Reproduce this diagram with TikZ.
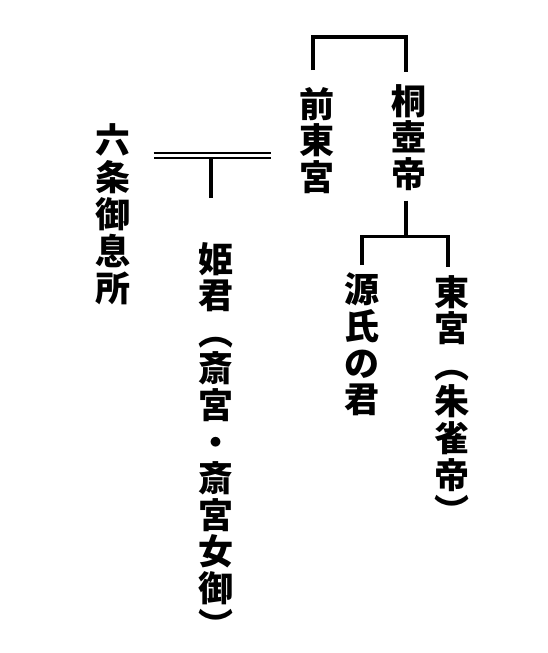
\documentclass[tikz,border=0pt]{standalone}
\usepackage{fontspec}
\newfontfamily\cjk{Noto Sans CJK JP}
\usetikzlibrary{calc, positioning}

\begin{document}
\begin{tikzpicture}[x=1pt,y=-1pt,
  bar/.style={line width=3.3pt},
  wed/.style={double,line width=2pt,double distance=3pt},
  person/.style={align=center,inner sep=0pt,anchor=north,
    font=\cjk\bfseries\fontsize{35}{36.6}\selectfont}]
\useasboundingbox (0,0) rectangle (547,653);
% Persons
\node[person] (zentogu) at (317,87) {前\\東\\宮};
\node[person] (kiritsubo) at (409,84) {桐\\壺\\帝};
\node[person,font=\cjk\bfseries\fontsize{35}{37}\selectfont] (rokujo) at (113,123) {六\\条\\御\\息\\所};
\node[person] (himegimi) at (216,242) {姫\\君\\︵\\斎\\宮\\・\\斎\\宮\\女\\御\\︶};
\node[person] (genji) at (362,273) {源\\氏\\の\\君};
\node[person] (togu) at (452,275) {東\\宮\\︵\\朱\\雀\\帝\\︶};
% Brothers
\draw[bar] ([xshift=-4pt,yshift=17pt]zentogu.north) -- ++(0,-33)
  -| ([xshift=-3pt,yshift=12pt]kiritsubo.north);
% Children of the emperor
\draw[bar] ([xshift=-3pt,yshift=-10pt]kiritsubo.south) -- ++(0,36) coordinate (fork);
\draw[bar] ([yshift=8pt]genji.north) |- (fork) -| ([xshift=-4pt,yshift=8pt]togu.north);
% Marriage
\coordinate (w1) at ([xshift=23pt,yshift=-32pt]rokujo.north east);
\coordinate (w2) at ($(w1 -| zentogu.west)+(-28,0)$);
\draw[wed] (w1) -- (w2);
\draw[bar,shorten >=2.5pt] ([xshift=-5pt,yshift=44pt]himegimi.north)
  -- ([xshift=-5pt]himegimi.north |- w1);
\end{tikzpicture}
\end{document}
